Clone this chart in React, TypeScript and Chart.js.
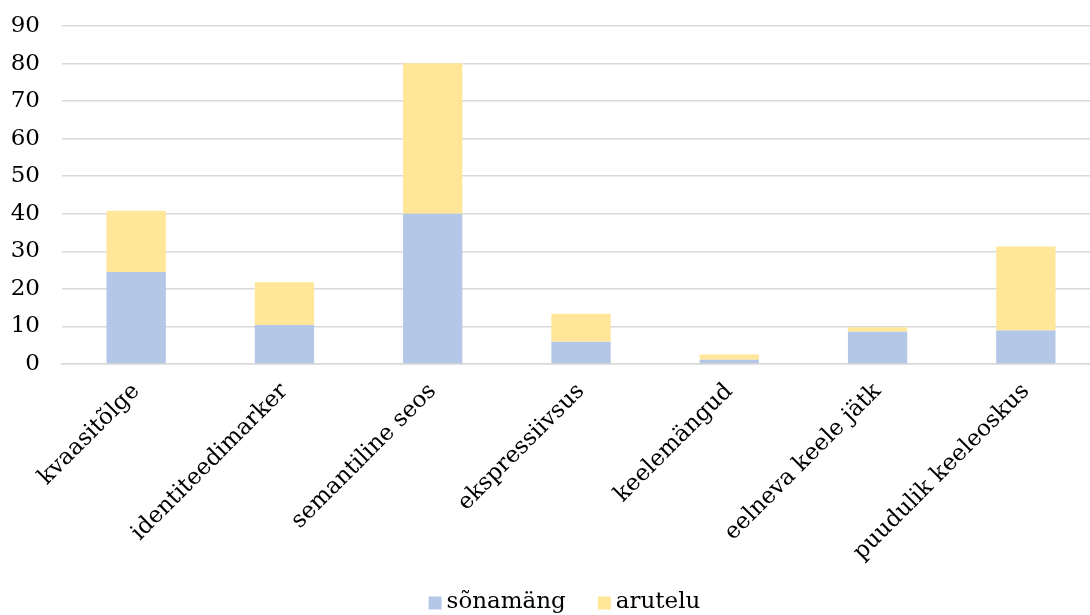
import React, { useEffect, useRef } from "react";
import { Chart, registerables } from "chart.js";

Chart.register(...registerables);

const categories = [
  "kvaasitõlge",
  "identiteedimarker",
  "semantiline seos",
  "ekspressiivsus",
  "keelemängud",
  "eelneva keele jätk",
  "puudulik keeleoskus",
];
const sonamang = [24.5, 10.4, 40, 5.9, 1.1, 8.6, 8.9];
const arutelu = [16.3, 11.4, 40.1, 7.5, 1.4, 1.2, 22.4];
const seriesNames = ["sõnamäng", "arutelu"];
const seriesColors = ["#b4c7e7", "#ffe699"];

const FONT = "'DejaVu Serif', 'Liberation Serif', serif";

const bottomLegend = {
  id: "bottomLegend",
  afterDraw(chart: any) {
    const ctx = chart.ctx;
    ctx.save();
    ctx.font = `23px ${FONT}`;
    ctx.textBaseline = "middle";
    ctx.textAlign = "left";
    const box = 13;
    const gapBoxText = 5;
    const gapItems = 32;
    const items = chart.data.datasets.map((d: any) => ({
      text: d.label,
      color: d.backgroundColor,
      w: box + gapBoxText + ctx.measureText(d.label).width,
    }));
    const total =
      items.reduce((a: number, it: any) => a + it.w, 0) + gapItems * (items.length - 1);
    let x = 564.5 - total / 2;
    const y = 602;
    for (const it of items) {
      ctx.fillStyle = it.color;
      ctx.fillRect(x, y - box / 2 + 1, box, box);
      ctx.fillStyle = "#000";
      ctx.fillText(it.text, x + box + gapBoxText, y);
      x += it.w + gapItems;
    }
    ctx.restore();
  },
};

export default function App() {
  const ref = useRef<HTMLCanvasElement | null>(null);
  useEffect(() => {
    if (!ref.current) return;
    const chart = new Chart(ref.current, {
      type: "bar",
      data: {
        labels: categories,
        datasets: [
          {
            label: seriesNames[0],
            data: sonamang,
            backgroundColor: seriesColors[0],
            barPercentage: 0.4,
            categoryPercentage: 1,
          },
          {
            label: seriesNames[1],
            data: arutelu,
            backgroundColor: seriesColors[1],
            barPercentage: 0.4,
            categoryPercentage: 1,
          },
        ],
      },
      plugins: [bottomLegend],
      options: {
        responsive: false,
        animation: false,
        layout: { padding: { top: 26, left: 0, right: 0, bottom: 40 } },
        plugins: {
          tooltip: { enabled: false },
          legend: { display: false },
        },
        scales: {
          x: {
            stacked: true,
            grid: { display: false, drawTicks: false },
            border: { display: true, color: "#d9d9d9", width: 1.5 },
            ticks: {
              minRotation: 45,
              maxRotation: 45,
              autoSkip: false,
              padding: 14,
              color: "#000",
              font: { family: FONT, size: 23 },
            },
            afterFit: (s: any) => {
              s.paddingLeft = 0;
              s.paddingRight = 0;
              s.height = 211;
            },
          },
          y: {
            stacked: true,
            min: 0,
            max: 90,
            grid: { color: "#d9d9d9", lineWidth: 1.5, drawTicks: false },
            border: { display: false },
            ticks: {
              stepSize: 10,
              padding: 22,
              color: "#000",
              font: { family: FONT, size: 23 },
            },
            afterFit: (s: any) => {
              s.paddingTop = 0;
              s.paddingBottom = 0;
              s.width = 62;
            },
          },
        },
      },
    });
    return () => chart.destroy();
  }, []);
  return (
    <div
      style={{
        position: "fixed",
        left: 0,
        top: 0,
        width: 1090,
        height: 615,
        overflow: "hidden",
        background: "#fff",
      }}
    >
      <canvas ref={ref} width={1100} height={615} />
    </div>
  );
}
